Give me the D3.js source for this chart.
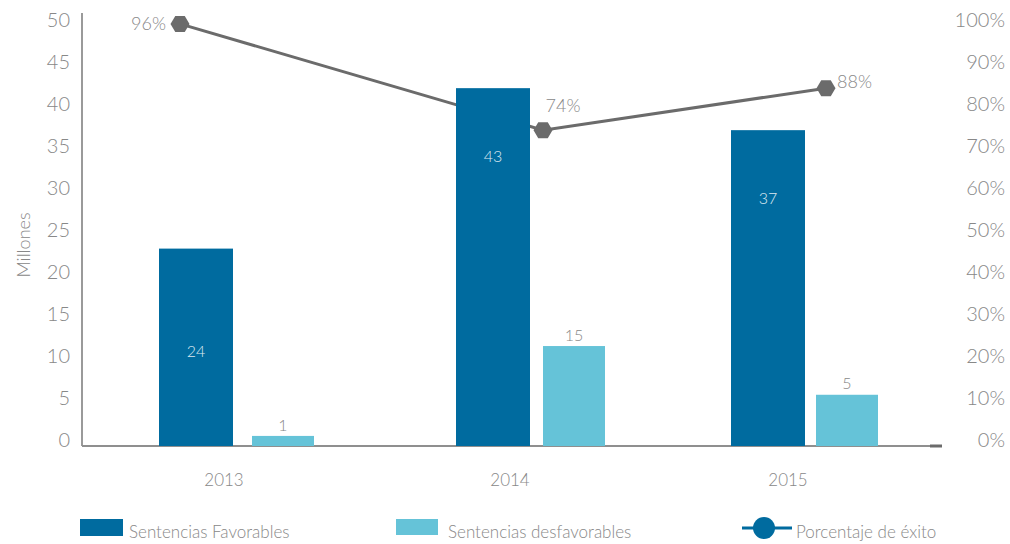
<!DOCTYPE html>
<html>
<head>
<meta charset="utf-8">
<script src="https://cdn.jsdelivr.net/npm/d3@7"></script>
<style>
  body { margin: 0; background: #fff; }
  text { font-family: Lato, "Open Sans", sans-serif; font-weight: 300; fill: #888; }
</style>
</head>
<body>
<div id="chart"></div>
<script>
// data
var years = [2013, 2014, 2015];
var favorables = [23.5, 42.6, 37.6];       // bar heights (millones)
var favLabels = ["24", "43", "37"];
var desfavorables = [1.2, 11.9, 6.1];
var desfavLabels = ["1", "15", "5"];
var exito = [100.5, 75.2, 85.2];            // plotted position (%)
var exitoLabels = ["96%", "74%", "88%"];
var leftTicks = [0, 5, 10, 15, 20, 25, 30, 35, 40, 45, 50];
var rightTicks = [0, 10, 20, 30, 40, 50, 60, 70, 80, 90, 100];

var width = 1010, height = 544;
var colFav = "#006b9f", colDes = "#65c3d8", colLine = "#6b6b6b";

var svg = d3.select("#chart").append("svg")
  .attr("width", width)
  .attr("height", height);

// groups are not evenly spaced in the original, so piecewise scales
var xFav = d3.scaleLinear().domain(years).range([159, 456, 731]);
var xDes = d3.scaleLinear().domain(years).range([252, 543, 816]);
var xCat = d3.scaleLinear().domain(years).range([224, 510, 788]);
var xLine = d3.scaleLinear().domain(years).range([180, 543, 826]);
var y = d3.scaleLinear().domain([0, 50]).range([446, 26]);
var yR = d3.scaleLinear().domain([0, 100]).range([446, 26]);

var favW = 74, desW = 62;

// left tick labels
svg.append("g").selectAll("text")
  .data(leftTicks).enter().append("text")
  .attr("x", 70)
  .attr("y", function(d) { return y(d) - 6; })
  .attr("dy", "0.35em")
  .attr("text-anchor", "end")
  .style("font-size", "20px")
  .text(function(d) { return d; });

// right tick labels
svg.append("g").selectAll("text")
  .data(rightTicks).enter().append("text")
  .attr("x", 1005)
  .attr("y", function(d) { return yR(d) - 6; })
  .attr("dy", "0.35em")
  .attr("text-anchor", "end")
  .style("font-size", "20px")
  .text(function(d) { return d + "%"; });

// axis title
svg.append("text")
  .attr("transform", "translate(30,245) rotate(-90)")
  .attr("text-anchor", "middle")
  .style("font-size", "18px")
  .text("Millones");

// axes lines
svg.append("line")
  .attr("x1", 82).attr("x2", 82).attr("y1", 13).attr("y2", y(0))
  .attr("stroke", "#9a9a9a").attr("stroke-width", 2);
svg.append("line")
  .attr("x1", 82).attr("x2", 942).attr("y1", y(0)).attr("y2", y(0))
  .attr("stroke", "#8f8f8f").attr("stroke-width", 2);
svg.append("line")
  .attr("x1", 930).attr("x2", 942).attr("y1", y(0)).attr("y2", y(0))
  .attr("stroke", "#6b6b6b").attr("stroke-width", 3);

// line (drawn under the bars)
var pts = years.map(function(yr, i) { return [xLine(yr), yR(exito[i])]; });
svg.append("path")
  .attr("d", d3.line()(pts))
  .attr("fill", "none")
  .attr("stroke", colLine)
  .attr("stroke-width", 3);

// bars
svg.append("g").selectAll("rect")
  .data(years).enter().append("rect")
  .attr("x", function(d) { return xFav(d); })
  .attr("y", function(d, i) { return y(favorables[i]); })
  .attr("width", favW)
  .attr("height", function(d, i) { return y(0) - y(favorables[i]); })
  .attr("fill", colFav);

svg.append("g").selectAll("rect")
  .data(years).enter().append("rect")
  .attr("x", function(d) { return xDes(d); })
  .attr("y", function(d, i) { return y(desfavorables[i]); })
  .attr("width", desW)
  .attr("height", function(d, i) { return y(0) - y(desfavorables[i]); })
  .attr("fill", colDes);

// bar labels
svg.append("g").selectAll("text")
  .data(years).enter().append("text")
  .attr("x", function(d) { return xFav(d) + favW / 2; })
  .attr("y", function(d, i) {
    var h = y(0) - y(favorables[i]);
    return y(favorables[i]) + (h < 250 ? h / 2 + 4 : 68);
  })
  .attr("dy", "0.35em")
  .attr("text-anchor", "middle")
  .style("font-size", "16px")
  .style("fill", "#dce8f0")
  .text(function(d, i) { return favLabels[i]; });

svg.append("g").selectAll("text")
  .data(years).enter().append("text")
  .attr("x", function(d) { return xDes(d) + desW / 2; })
  .attr("y", function(d, i) { return y(desfavorables[i]) - 11; })
  .attr("dy", "0.35em")
  .attr("text-anchor", "middle")
  .style("font-size", "16px")
  .text(function(d, i) { return desfavLabels[i]; });

// hexagon markers
var hex = "M-9.5,0L-4.75,-8L4.75,-8L9.5,0L4.75,8L-4.75,8Z";
svg.append("g").selectAll("path")
  .data(pts).enter().append("path")
  .attr("d", hex)
  .attr("transform", function(d) { return "translate(" + d[0] + "," + d[1] + ")"; })
  .attr("fill", colLine);

// percent labels
var lblOff = [[-14, 0, "end"], [20, -24, "middle"], [11, -6, "start"]];
svg.append("g").selectAll("text")
  .data(pts).enter().append("text")
  .attr("x", function(d, i) { return d[0] + lblOff[i][0]; })
  .attr("y", function(d, i) { return d[1] + lblOff[i][1]; })
  .attr("dy", "0.35em")
  .attr("text-anchor", function(d, i) { return lblOff[i][2]; })
  .style("font-size", "18px")
  .text(function(d, i) { return exitoLabels[i]; });

// category labels
svg.append("g").selectAll("text")
  .data(years).enter().append("text")
  .attr("x", function(d) { return xCat(d); })
  .attr("y", 480)
  .attr("dy", "0.35em")
  .attr("text-anchor", "middle")
  .style("font-size", "17px")
  .text(function(d) { return d; });

// legend
var leg = svg.append("g");
leg.append("rect").attr("x", 80).attr("y", 519).attr("width", 43).attr("height", 17).attr("fill", colFav);
leg.append("text").attr("x", 129).attr("y", 532).attr("dy", "0.35em").style("font-size", "17px").text("Sentencias Favorables");
leg.append("rect").attr("x", 396).attr("y", 519).attr("width", 42).attr("height", 16).attr("fill", colDes);
leg.append("text").attr("x", 448).attr("y", 532).attr("dy", "0.35em").style("font-size", "17px").text("Sentencias desfavorables");
leg.append("line").attr("x1", 742).attr("x2", 792).attr("y1", 528).attr("y2", 528).attr("stroke", colFav).attr("stroke-width", 3);
leg.append("circle").attr("cx", 764).attr("cy", 528).attr("r", 11).attr("fill", colFav);
leg.append("text").attr("x", 796).attr("y", 532).attr("dy", "0.35em").style("font-size", "17px").text("Porcentaje de éxito");
</script>
</body>
</html>
